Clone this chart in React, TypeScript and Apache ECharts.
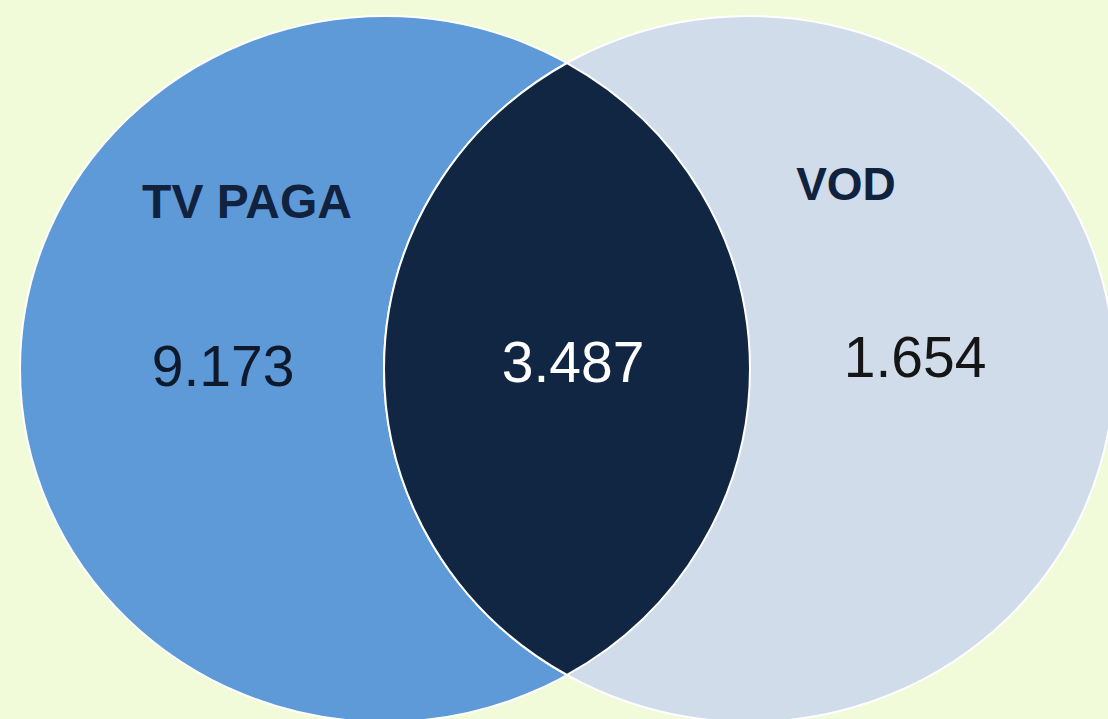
import React, { useEffect, useRef } from "react";
import * as echarts from "echarts";

// Data
const setNames: string[] = ["TV PAGA", "VOD"];
const onlyLeft = 9173;
const both = 3487;
const onlyRight = 1654;

const fmt = (v: number) => String(v).replace(/\B(?=(\d{3})+(?!\d))/g, ".");

// Layout
const W = 1108;
const H = 719;
const CY = 369;
const RX = 365;
const RY = 353;
const CXL = 385;
const CXR = 749;

export default function App() {
  const ref = useRef<HTMLDivElement>(null);
  useEffect(() => {
    if (!ref.current) return;
    const mx = (CXL + CXR) / 2;
    const dx = (CXR - CXL) / 2;
    const t = RY * Math.sqrt(1 - (dx / RX) ** 2);
    const y1 = CY - t;
    const y2 = CY + t;
    const d = `M ${mx} ${y1} A ${RX} ${RY} 0 0 1 ${mx} ${y2} A ${RX} ${RY} 0 0 1 ${mx} ${y1} Z`;
    echarts.graphic.registerShape("lens", echarts.graphic.extendPath(d, {}) as any);

    const chart = echarts.init(ref.current, null, { renderer: "svg" });
    const font = "'Liberation Sans', Arial, sans-serif";
    chart.setOption({
      animation: false,
      backgroundColor: "#f1fad9",
      graphic: [
        {
          type: "ellipse",
          shape: { cx: CXL, cy: CY, rx: RX, ry: RY },
          style: { fill: "#5f9ad8", stroke: "#ffffff", lineWidth: 2 },
        },
        {
          type: "ellipse",
          shape: { cx: CXR, cy: CY, rx: RX, ry: RY },
          style: { fill: "#d0dcea", stroke: "#ffffff", lineWidth: 2 },
        },
        {
          type: "lens",
          x: 0,
          y: 0,
          style: { fill: "#112642", stroke: "#ffffff", lineWidth: 2 },
        },
        {
          type: "text",
          x: 247,
          y: 201,
          style: {
            text: setNames[0],
            fill: "#10223d",
            font: `bold 48px ${font}`,
            textAlign: "center",
            textVerticalAlign: "middle",
          },
        },
        {
          type: "text",
          x: 846,
          y: 184,
          style: {
            text: setNames[1],
            fill: "#10223d",
            font: `bold 46px ${font}`,
            textAlign: "center",
            textVerticalAlign: "middle",
          },
        },
        {
          type: "text",
          x: 223,
          y: 366,
          style: {
            text: fmt(onlyLeft),
            fill: "#0e1a2c",
            font: `57px ${font}`,
            textAlign: "center",
            textVerticalAlign: "middle",
          },
        },
        {
          type: "text",
          x: 573,
          y: 362,
          style: {
            text: fmt(both),
            fill: "#ffffff",
            font: `57px ${font}`,
            textAlign: "center",
            textVerticalAlign: "middle",
          },
        },
        {
          type: "text",
          x: 915,
          y: 357,
          style: {
            text: fmt(onlyRight),
            fill: "#151515",
            font: `57px ${font}`,
            textAlign: "center",
            textVerticalAlign: "middle",
          },
        },
      ],
    });
    return () => chart.dispose();
  }, []);
  return (
    <div
      ref={ref}
      style={{ position: "fixed", left: 0, top: 0, width: W, height: H }}
    />
  );
}
